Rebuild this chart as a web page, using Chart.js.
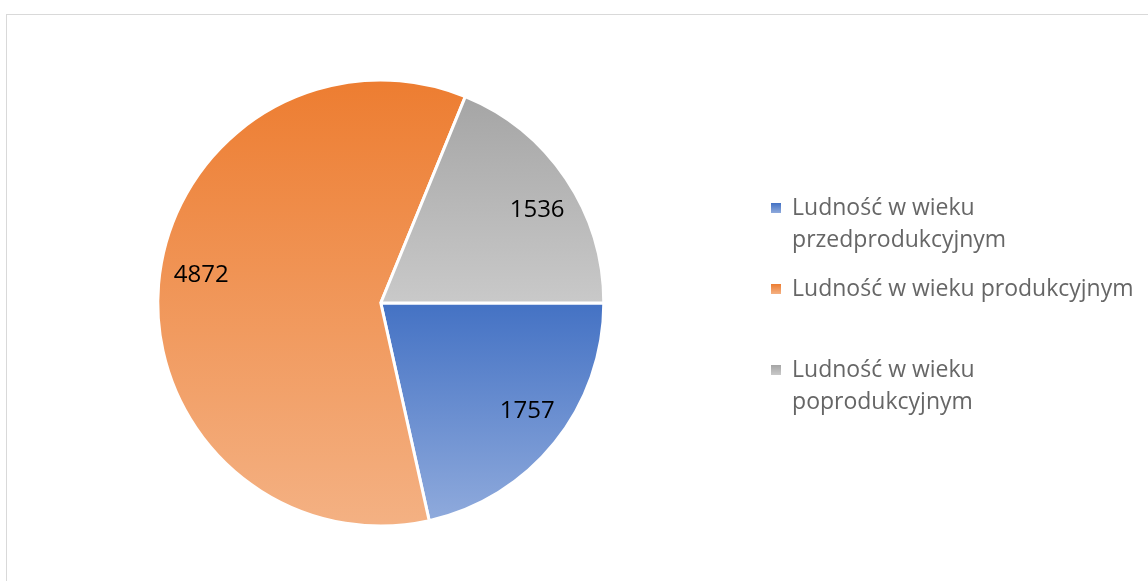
<!DOCTYPE html>
<html>
<head>
<meta charset="utf-8">
<script src="https://cdn.jsdelivr.net/npm/chart.js@4/dist/chart.umd.min.js"></script>
<style>
  html, body { margin: 0; padding: 0; background: #fff; overflow: hidden; }
  #frame { position: absolute; left: 6px; top: 14px; width: 2000px; height: 2000px; border: 1px solid #d9d9d9; }
  #wrap { position: absolute; left: 0; top: 0; width: 1148px; height: 581px; }
</style>
</head>
<body>
<div id="frame"></div>
<div id="wrap"><canvas id="pieChart"></canvas></div>
<script>
const labels = [
    ['Ludność w wieku', 'przedprodukcyjnym'],
    ['Ludność w wieku produkcyjnym', ''],
    ['Ludność w wieku', 'poprodukcyjnym']
];
const values = [1757, 4872, 1536];
const topColors = ['#4472C4', '#ED7D31', '#A5A5A5'];
const bottomColors = ['#8FAADC', '#F4B183', '#C9C9C9'];
// small nudge of each value label around the slice middle (degrees)
const labelNudge = [-2.4, 4.1, 3.2];

// vertical extent of one pie slice, used for its own gradient
function sliceRange(arc) {
    const ys = [arc.y, arc.y + arc.outerRadius * Math.sin(arc.startAngle), arc.y + arc.outerRadius * Math.sin(arc.endAngle)];
    const tau = Math.PI * 2;
    [Math.PI / 2, -Math.PI / 2].forEach(a => {
        let t = a;
        while (t < arc.startAngle) t += tau;
        if (t <= arc.endAngle) ys.push(arc.y + arc.outerRadius * Math.sin(t));
    });
    return [Math.min(...ys), Math.max(...ys)];
}

const gradientFill = {
    id: 'gradientFill',
    beforeDatasetsDraw(chart) {
        const ctx = chart.ctx;
        chart.getDatasetMeta(0).data.forEach((arc, i) => {
            const [y0, y1] = sliceRange(arc);
            const g = ctx.createLinearGradient(0, y0, 0, y1);
            g.addColorStop(0, topColors[i]);
            g.addColorStop(1, bottomColors[i]);
            arc.options.backgroundColor = g;
        });
    }
};

const valueLabels = {
    id: 'valueLabels',
    afterDatasetsDraw(chart) {
        const ctx = chart.ctx;
        ctx.save();
        ctx.font = '24px "Open Sans"';
        ctx.fillStyle = '#000';
        ctx.textAlign = 'center';
        ctx.textBaseline = 'middle';
        chart.getDatasetMeta(0).data.forEach((arc, i) => {
            const mid = (arc.startAngle + arc.endAngle) / 2 + labelNudge[i] * Math.PI / 180;
            const r = arc.outerRadius * 0.815;
            ctx.fillText(String(values[i]), arc.x + r * Math.cos(mid), arc.y + r * Math.sin(mid));
        });
        ctx.restore();
    }
};

const legendSwatch = (i) => {
    const c = document.createElement('canvas');
    c.width = 10; c.height = 10;
    const x = c.getContext('2d');
    const g = x.createLinearGradient(0, 0, 0, 10);
    g.addColorStop(0, topColors[i]);
    g.addColorStop(1, bottomColors[i]);
    x.fillStyle = g;
    x.fillRect(0, 0, 10, 10);
    return c;
};

new Chart(document.getElementById('pieChart'), {
    type: 'pie',
    data: {
        labels: labels,
        datasets: [{
            data: values,
            backgroundColor: topColors,
            borderColor: '#fff',
            borderWidth: 3,
            hoverOffset: 0
        }]
    },
    options: {
        responsive: true,
        maintainAspectRatio: false,
        animation: false,
        rotation: 90,
        layout: { padding: { left: 7, top: 78.5, bottom: 53.5, right: 4.5 } },
        plugins: {
            tooltip: { enabled: false },
            legend: {
                position: 'right',
                title: { display: true, text: ' ', padding: 0, font: { size: 12, lineHeight: 14 / 12 } },
                labels: {
                    color: '#595959',
                    font: { family: '"Open Sans"', size: 23, lineHeight: 32.5 / 23 },
                    padding: 16,
                    boxWidth: 10,
                    boxHeight: 10,
                    usePointStyle: true,
                    generateLabels(chart) {
                        return chart.data.labels.map((t, i) => ({
                            text: t,
                            pointStyle: legendSwatch(i),
                            fillStyle: topColors[i],
                            strokeStyle: topColors[i],
                            lineWidth: 0,
                            hidden: false,
                            index: i
                        }));
                    }
                }
            }
        }
    },
    plugins: [gradientFill, valueLabels]
});
</script>
</body>
</html>
